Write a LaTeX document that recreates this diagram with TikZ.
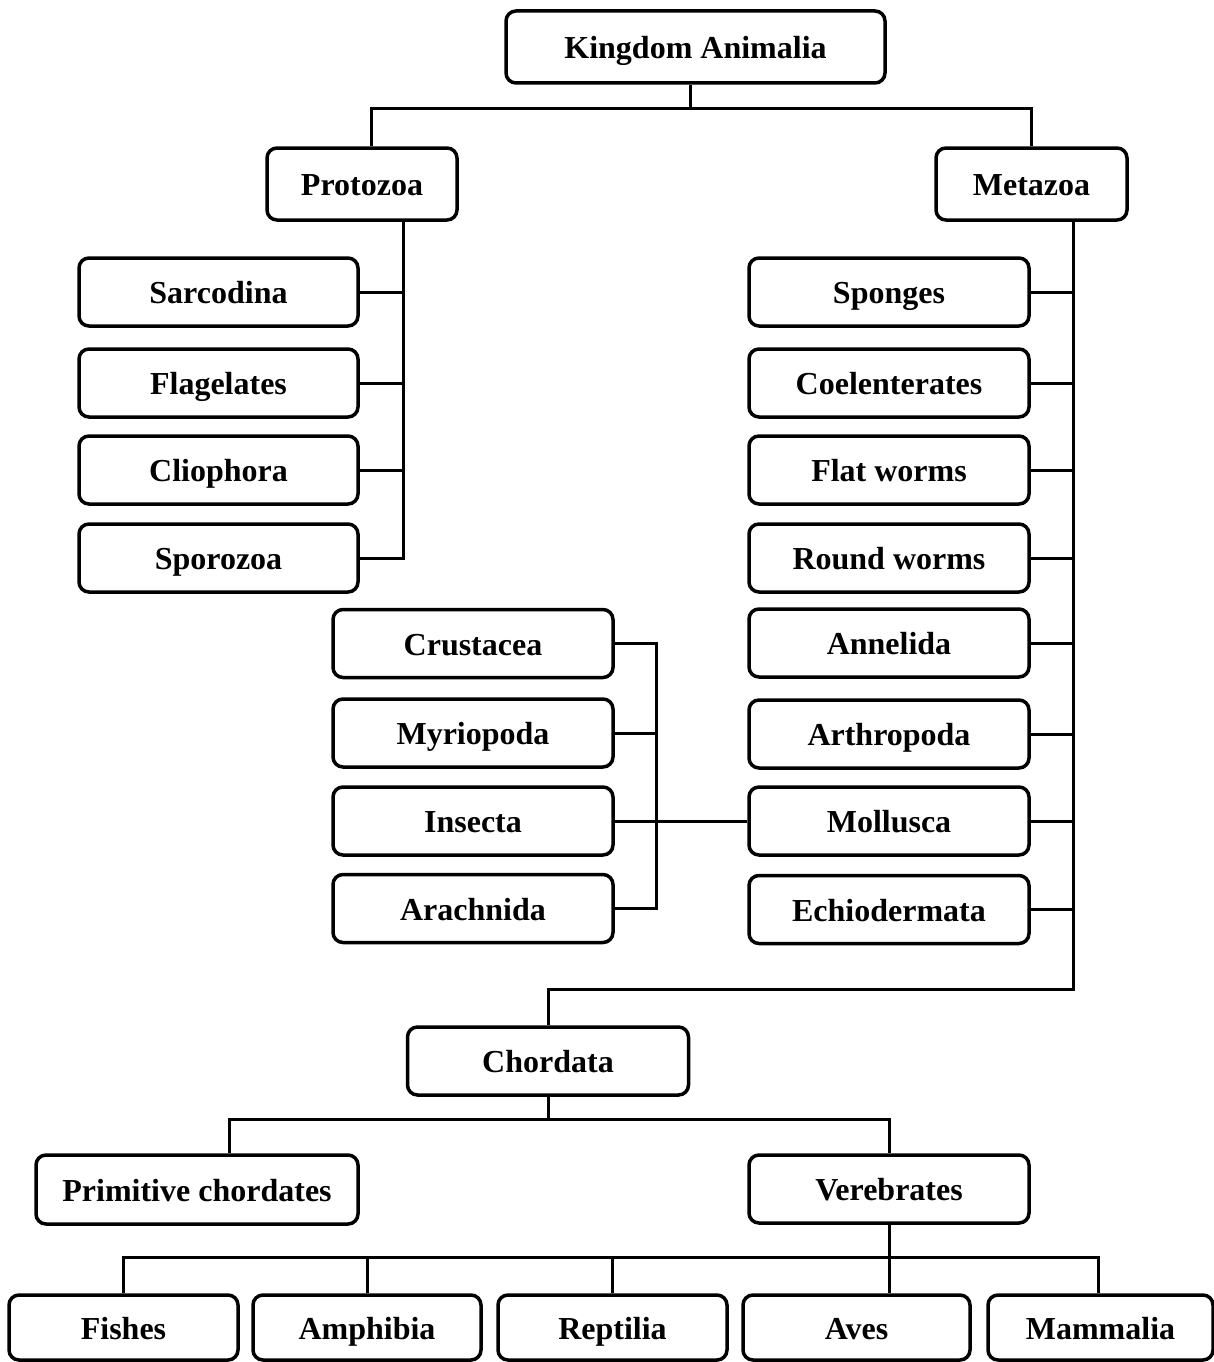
\documentclass[tikz,border=0pt]{standalone}
\usepackage{fontspec}
\setmainfont{Liberation Serif}
\begin{document}
\begin{tikzpicture}[x=1pt,y=-1pt,
  box/.style={draw, line width=3.5pt, rounded corners=10pt, inner sep=0pt,
    text height=25pt, text depth=2pt,
    font=\fontsize{32}{38}\selectfont\bfseries},
  conn/.style={line width=3pt}]
\useasboundingbox (0,0) rectangle (1214,1362);

% top level
\node[box, minimum width=379, minimum height=72] (king) at (695.5,47) {Kingdom Animalia};
\node[box, minimum width=190, minimum height=72] (prot) at (362,184) {Protozoa};
\node[box, minimum width=191, minimum height=72] (meta) at (1031.5,184) {Metazoa};

% protozoa classes
\node[box, minimum width=279, minimum height=68] (sarc) at (218.5,292) {Sarcodina};
\node[box, minimum width=279, minimum height=68] (flag) at (218.5,383) {Flagelates};
\node[box, minimum width=279, minimum height=68] (clio) at (218.5,470) {Cliophora};
\node[box, minimum width=279, minimum height=68] (spor) at (218.5,558) {Sporozoa};

% metazoa phyla
\node[box, minimum width=280, minimum height=68] (spon) at (889,292) {Sponges};
\node[box, minimum width=280, minimum height=68] (coel) at (889,383) {Coelenterates};
\node[box, minimum width=280, minimum height=68] (flat) at (889,470) {Flat worms};
\node[box, minimum width=280, minimum height=68] (round) at (889,558) {Round worms};
\node[box, minimum width=280, minimum height=68] (anne) at (889,643) {Annelida};
\node[box, minimum width=280, minimum height=68] (arth) at (889,734) {Arthropoda};
\node[box, minimum width=280, minimum height=68] (moll) at (889,821) {Mollusca};
\node[box, minimum width=280, minimum height=68] (echi) at (889,909.5) {Echiodermata};

% arthropod classes
\node[box, minimum width=280, minimum height=68] (crus) at (473,643.5) {Crustacea};
\node[box, minimum width=280, minimum height=68] (myri) at (473,733) {Myriopoda};
\node[box, minimum width=280, minimum height=68] (inse) at (473,821) {Insecta};
\node[box, minimum width=280, minimum height=68] (arac) at (473,908.5) {Arachnida};

% chordates
\node[box, minimum width=281, minimum height=68] (chord) at (548,1061) {Chordata};
\node[box, minimum width=322, minimum height=69] (prim) at (197,1189.5) {Primitive chordates};
\node[box, minimum width=280, minimum height=68] (vert) at (889,1189) {Verebrates};

% vertebrate classes
\node[box, minimum width=229, minimum height=65] (fish) at (123.5,1327.5) {Fishes};
\node[box, minimum width=228, minimum height=65] (amph) at (367,1327.5) {Amphibia};
\node[box, minimum width=229, minimum height=65] (rept) at (612.5,1327.5) {Reptilia};
\node[box, minimum width=227, minimum height=65] (aves) at (856.5,1327.5) {Aves};
\node[box, minimum width=225, minimum height=65] (mamm) at (1100.5,1327.5) {Mammalia};

% bus positions
\coordinate (topbar) at (690,109);
\coordinate (pbus) at (403,0);
\coordinate (mbus) at (1073,989);
\coordinate (abus) at (656,0);
\coordinate (cbar) at (0,1119);
\coordinate (vbar) at (0,1257);

% kingdom -> protozoa / metazoa
\draw[conn] ([xshift=-5.5pt]king.south) -- (topbar);
\draw[conn] ([xshift=9pt]prot.north) |- (meta.north |- topbar) -- (meta.north);

% protozoa bus
\draw[conn] (pbus |- prot.south) -- (pbus |- spor.east) -- (spor.east);
\foreach \n in {sarc,flag,clio}
  \draw[conn] (\n.east) -- (\n.east -| pbus);

% metazoa bus down to chordata
\draw[conn] (mbus |- meta.south) -- (mbus) -| (chord.north);
\foreach \n in {spon,coel,flat,round,anne,arth,moll,echi}
  \draw[conn] (\n.east) -- (\n.east -| mbus);

% arthropod bus
\draw[conn] (crus.east) -- (crus.east -| abus) -- (arac.east -| abus) -- (arac.east);
\draw[conn] (myri.east) -- (myri.east -| abus);
\draw[conn] (inse.east) -- (moll.west);

% chordata split
\draw[conn] (chord.south) -- (chord.south |- cbar);
\draw[conn] ([xshift=32pt]prim.north) |- (vert.north |- cbar) -- (vert.north);

% vertebrate classes
\draw[conn] (vert.south) -- (vert.south |- aves.north);
\draw[conn] (fish.north) |- ([xshift=-2.5pt]mamm.north |- vbar) -- ([xshift=-2.5pt]mamm.north);
\draw[conn] (amph.north) -- (amph.north |- vbar);
\draw[conn] (rept.north) -- (rept.north |- vbar);
\end{tikzpicture}
\end{document}
